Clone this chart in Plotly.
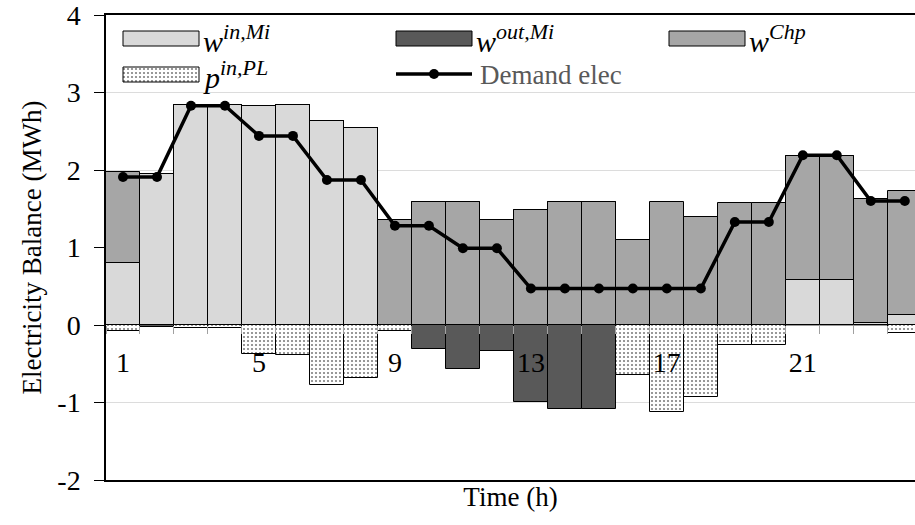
import plotly.graph_objects as go

# Hourly electricity balance (MWh)
hours = list(range(1, 25))
w_in_mi = [0.80, 1.95, 2.84, 2.84, 2.82, 2.84, 2.63, 2.54, 0, 0, 0, 0,
           0, 0, 0, 0, 0, 0, 0, 0, 0.58, 0.58, 0.03, 0.13]
w_out_mi = [0, -0.02, 0, 0, 0, 0, 0, 0, 0, -0.31, -0.57, -0.34,
            -0.99, -1.08, -1.08, 0, 0, 0, 0, 0, 0, 0, 0, 0]
w_chp = [1.18, 0, 0, 0, 0, 0, 0, 0, 1.36, 1.59, 1.59, 1.35,
         1.49, 1.59, 1.59, 1.10, 1.59, 1.40, 1.58, 1.58, 1.60, 1.60, 1.59, 1.60]
p_in_pl = [-0.08, 0, -0.04, -0.04, -0.37, -0.39, -0.77, -0.68, -0.08, 0, 0, 0,
           0, 0, 0, -0.645, -1.12, -0.93, -0.26, -0.26, 0, 0, 0, -0.10]
demand = [1.91, 1.91, 2.83, 2.83, 2.44, 2.44, 1.87, 1.87, 1.28, 1.28, 0.99, 0.99,
          0.47, 0.47, 0.47, 0.47, 0.47, 0.47, 1.33, 1.33, 2.19, 2.19, 1.60, 1.60]
hour_ticks = [1, 5, 9, 13, 17, 21]
y_ticks = [-2, -1, 0, 1, 2, 3, 4]
y_tick_text = ["-2", "-1", "0", "1", "2", "3", "4"]

LIGHT = "#d9d9d9"
DARK = "#595959"
MID = "#a6a6a6"
SERIF = "Liberation Serif"
DOTS = dict(shape=".", fgcolor="black", bgcolor="white", size=4, solidity=0.22)

fig = go.Figure()
bar_line = dict(color="black", width=1)
fig.add_trace(go.Bar(x=hours, y=w_in_mi, marker=dict(color=LIGHT, line=bar_line),
                     name="w in,Mi", showlegend=False))
fig.add_trace(go.Bar(x=hours, y=w_out_mi, marker=dict(color=DARK, line=bar_line),
                     name="w out,Mi", showlegend=False))
fig.add_trace(go.Bar(x=hours, y=w_chp, marker=dict(color=MID, line=bar_line),
                     name="w Chp", showlegend=False))
fig.add_trace(go.Bar(x=hours, y=p_in_pl,
                     marker=dict(color="white", line=bar_line, pattern=DOTS),
                     name="p in,PL", showlegend=False))
fig.add_trace(go.Scatter(x=hours, y=demand, xaxis="x2", mode="lines+markers",
                         line=dict(color="black", width=3.5),
                         marker=dict(color="black", size=10),
                         name="Demand elec", showlegend=False))

# Legend drawn inside the plot area on a pixel-based overlay axis
def swatch(x0, y0, x1, y1, fill, pattern=None):
    kw = dict(x=[x0, x1, x1, x0, x0], y=[y0, y0, y1, y1, y0], xaxis="x3", yaxis="y3",
              mode="lines", fill="toself", fillcolor=fill,
              line=dict(color="black", width=1), hoverinfo="skip", showlegend=False)
    if pattern:
        kw["fillpattern"] = pattern
    fig.add_trace(go.Scatter(**kw))

swatch(123, 31, 199, 46, LIGHT)
swatch(396, 31, 472, 46, DARK)
swatch(669, 31, 745, 46, MID)
swatch(123, 67, 199, 82, "white", DOTS)
fig.add_trace(go.Scatter(x=[396, 472], y=[74, 74], xaxis="x3", yaxis="y3", mode="lines",
                         line=dict(color="black", width=3.5), hoverinfo="skip",
                         showlegend=False))
fig.add_trace(go.Scatter(x=[434], y=[74], xaxis="x3", yaxis="y3", mode="markers",
                         marker=dict(color="black", size=10), hoverinfo="skip",
                         showlegend=False))

leg_font = dict(family=SERIF, size=30, color="black")


def math_label(base, sup):
    return ("<i>%s</i><sup><span style='font-size:22px'><i>%s</i></span></sup>"
            % (base, sup))


labels = [
    (201, 38, math_label("w", "in,Mi")),
    (474, 38, math_label("w", "out,Mi")),
    (747, 38, math_label("w", "Chp")),
    (201, 74, math_label("p", "in,PL")),
]
annotations = [dict(x=x, y=y, xref="x3", yref="y3", text=t, showarrow=False,
                    xanchor="left", yanchor="middle", font=leg_font)
               for x, y, t in labels]
annotations.append(dict(x=478, y=75, xref="x3", yref="y3", text="Demand elec",
                        showarrow=False, xanchor="left", yanchor="middle",
                        font=dict(family=SERIF, size=27, color="#595959")))

fig.update_layout(
    width=915, height=525,
    margin=dict(l=106, r=0, t=15, b=45),
    paper_bgcolor="white", plot_bgcolor="white",
    barmode="relative", bargap=0,
    font=dict(family=SERIF, size=26, color="black"),
    xaxis=dict(range=[0.5, 24.3], showline=True, linecolor="black", linewidth=1.5,
               mirror=True, ticks="", showticklabels=False, showgrid=False,
               zeroline=False,
               title=dict(text="Time (h)", font=dict(family=SERIF, size=27), standoff=6)),
    xaxis2=dict(matches="x", overlaying="x", anchor="free", position=1 / 3,
                showline=False, showgrid=False, zeroline=False,
                tickmode="array", tickvals=hour_ticks, ticktext=[str(h) for h in hour_ticks],
                ticks="", ticklabelstandoff=18, tickfont=dict(family=SERIF, size=28),
                minor=dict(ticks="outside", tick0=0.5, dtick=1, ticklen=8,
                           tickcolor="#a0a0a0", showgrid=False)),
    yaxis=dict(range=[-2, 4], tickmode="array", tickvals=y_ticks, ticktext=y_tick_text,
               showline=True, linecolor="black", linewidth=1.5,
               ticks="outside", ticklen=10, tickcolor="black", ticklabelstandoff=8,
               ticklabeloverflow="allow",
               gridcolor="#dcdcdc", zeroline=True, zerolinecolor="#9a9a9a",
               tickfont=dict(family=SERIF, size=28),
               title=dict(text="Electricity Balance (MWh)", font=dict(family=SERIF, size=27),
                          standoff=8)),
    xaxis3=dict(overlaying="x", range=[106, 915], visible=False, fixedrange=True),
    yaxis3=dict(overlaying="y", range=[480, 15], visible=False, fixedrange=True),
    annotations=annotations,
)

fig.write_html("out.html")
